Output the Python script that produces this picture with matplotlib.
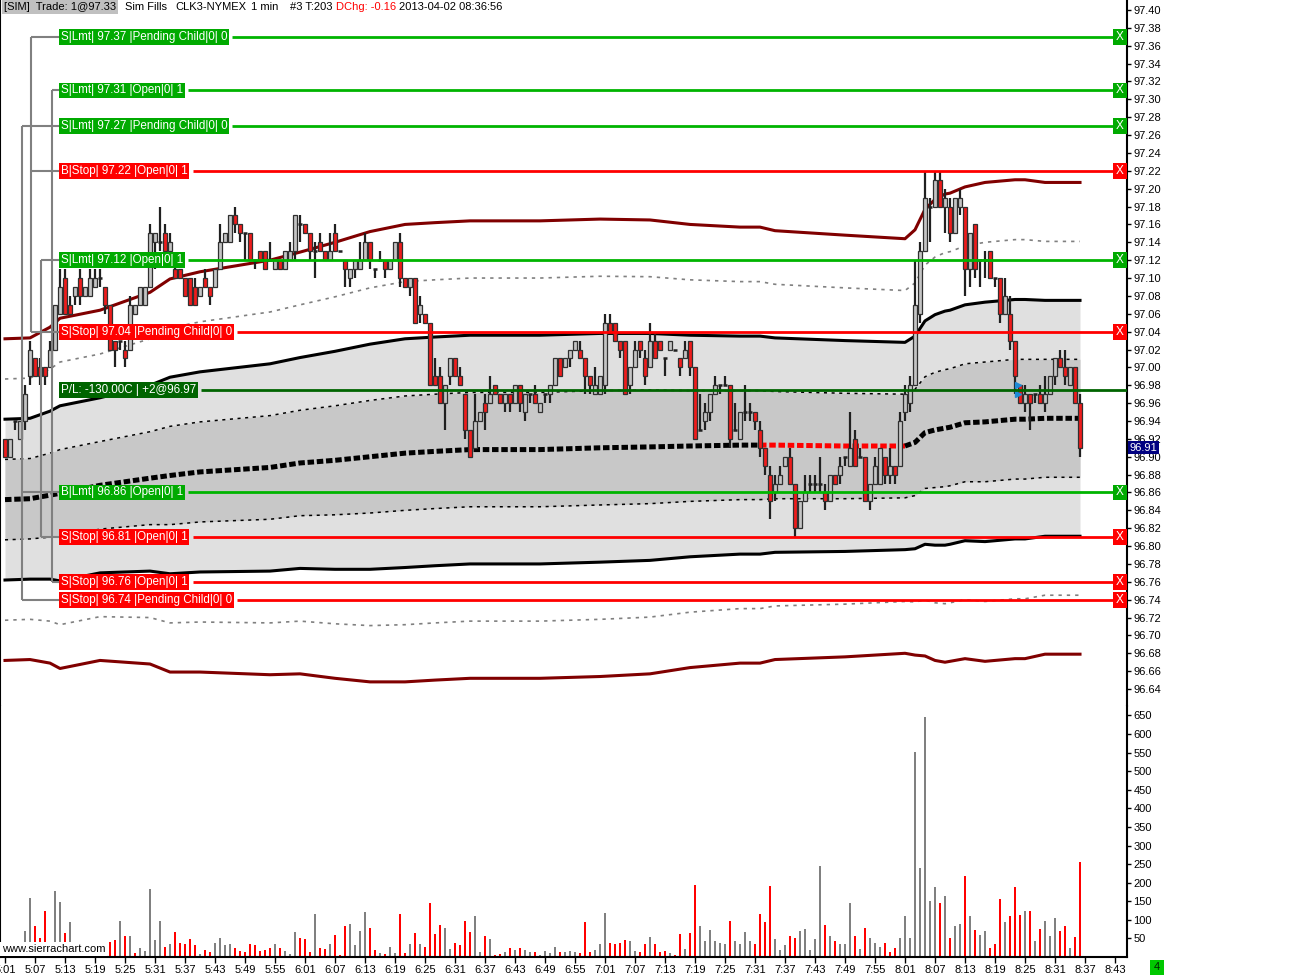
import numpy as np
import matplotlib
matplotlib.use("Agg")
import matplotlib.pyplot as plt
from matplotlib.patches import Rectangle
import matplotlib.transforms as mtransforms

plt.rcParams['font.family'] = ['Liberation Sans', 'DejaVu Sans']

# ---------------- DATA ----------------
opens = [
 96.92, 96.90, 96.94, 96.92, 96.94, 96.99, 97.01, 97.00, 97.00, 97.00,
 97.02, 97.06, 97.10, 97.07, 97.08, 97.10, 97.08, 97.08, 97.09, 97.10,
 97.09, 97.07, 97.03, 97.03, 97.02, 97.02, 97.06, 97.07, 97.07, 97.09,
 97.14, 97.14, 97.15, 97.13, 97.11, 97.11, 97.10, 97.10, 97.09, 97.08,
 97.10, 97.09, 97.09, 97.11, 97.14, 97.14, 97.17, 97.16, 97.15, 97.15,
 97.12, 97.13, 97.13, 97.12, 97.11, 97.12, 97.11, 97.12, 97.13, 97.16,
 97.16, 97.15, 97.13, 97.14, 97.13, 97.12, 97.15, 97.13, 97.12, 97.10,
 97.11, 97.11, 97.12, 97.14, 97.11, 97.12, 97.12, 97.11, 97.12, 97.14,
 97.10, 97.09, 97.10, 97.06, 97.06, 97.05, 96.99, 96.99, 96.96, 96.99,
 97.01, 96.99, 96.97, 96.93, 96.91, 96.94, 96.96, 96.96, 96.98, 96.97,
 96.96, 96.97, 96.96, 96.98, 96.95, 96.97, 96.97, 96.95, 96.97, 96.97,
 96.98, 97.01, 97.00, 97.01, 97.02, 97.02, 97.01, 96.99, 96.97, 96.97,
 96.98, 97.05, 97.05, 97.03, 97.03, 96.98, 97.00, 97.03, 97.01, 97.00,
 97.03, 97.03, 97.01, 97.02, 97.02, 97.01, 97.01, 97.03, 97.00, 96.93,
 96.94, 96.95, 96.97, 96.98, 96.98, 96.98, 96.93, 96.92, 96.95, 96.95,
 96.95, 96.93, 96.91, 96.88, 96.86, 96.87, 96.89, 96.90, 96.87, 96.82,
 96.85, 96.87, 96.87, 96.87, 96.86, 96.85, 96.88, 96.88, 96.90, 96.89,
 96.92, 96.90, 96.90, 96.85, 96.87, 96.87, 96.90, 96.88, 96.89, 96.89,
 96.95, 96.96, 96.98, 97.06, 97.13, 97.18, 97.18, 97.21, 97.18, 97.18,
 97.15, 97.18, 97.18, 97.11, 97.16, 97.12, 97.12, 97.13, 97.10, 97.10,
 97.06, 97.06, 97.03, 96.98, 96.96, 96.97, 96.97, 96.97, 96.96, 96.97,
 96.99, 97.01, 97.00, 96.98, 97.00, 96.96]
highs = [
 96.92, 96.92, 96.94, 96.94, 96.98, 97.03, 97.01, 97.01, 97.00, 97.03,
 97.07, 97.11, 97.11, 97.08, 97.09, 97.11, 97.09, 97.11, 97.11, 97.11,
 97.09, 97.07, 97.03, 97.03, 97.03, 97.08, 97.07, 97.09, 97.09, 97.16,
 97.15, 97.18, 97.16, 97.15, 97.12, 97.11, 97.10, 97.10, 97.10, 97.09,
 97.11, 97.09, 97.11, 97.16, 97.15, 97.17, 97.18, 97.16, 97.15, 97.15,
 97.12, 97.13, 97.13, 97.14, 97.12, 97.12, 97.13, 97.14, 97.17, 97.17,
 97.16, 97.15, 97.14, 97.15, 97.13, 97.15, 97.16, 97.13, 97.12, 97.11,
 97.12, 97.14, 97.15, 97.14, 97.11, 97.13, 97.12, 97.12, 97.14, 97.15,
 97.10, 97.10, 97.10, 97.08, 97.06, 97.05, 97.01, 97.00, 96.98, 97.01,
 97.01, 97.00, 96.97, 96.93, 96.97, 96.95, 96.97, 96.99, 96.98, 96.97,
 96.97, 96.97, 96.98, 96.98, 96.97, 96.97, 96.98, 96.96, 96.97, 96.98,
 97.01, 97.01, 97.01, 97.02, 97.03, 97.03, 97.01, 96.99, 97.00, 96.99,
 97.06, 97.06, 97.05, 97.03, 97.03, 97.00, 97.03, 97.03, 97.02, 97.05,
 97.04, 97.03, 97.01, 97.03, 97.02, 97.01, 97.03, 97.03, 97.00, 96.97,
 96.96, 96.97, 96.99, 96.98, 96.99, 96.98, 96.96, 96.95, 96.98, 96.96,
 96.95, 96.94, 96.91, 96.89, 96.88, 96.89, 96.90, 96.91, 96.87, 96.85,
 96.88, 96.88, 96.88, 96.90, 96.87, 96.88, 96.88, 96.90, 96.90, 96.95,
 96.93, 96.91, 96.90, 96.87, 96.90, 96.91, 96.90, 96.91, 96.89, 96.95,
 96.98, 96.99, 97.12, 97.14, 97.22, 97.19, 97.22, 97.22, 97.20, 97.19,
 97.19, 97.20, 97.18, 97.15, 97.16, 97.12, 97.13, 97.13, 97.10, 97.10,
 97.10, 97.08, 97.03, 96.98, 96.98, 96.97, 96.97, 96.98, 96.99, 96.99,
 97.01, 97.02, 97.02, 97.00, 97.00, 96.97]
lows = [
 96.90, 96.90, 96.93, 96.92, 96.93, 96.98, 96.99, 96.98, 96.98, 97.00,
 97.02, 97.06, 97.06, 97.06, 97.07, 97.07, 97.08, 97.08, 97.09, 97.09,
 97.06, 97.02, 97.00, 97.02, 97.00, 97.02, 97.06, 97.07, 97.07, 97.09,
 97.11, 97.13, 97.13, 97.12, 97.10, 97.10, 97.08, 97.07, 97.07, 97.08,
 97.09, 97.07, 97.09, 97.11, 97.14, 97.14, 97.15, 97.14, 97.12, 97.12,
 97.11, 97.12, 97.11, 97.12, 97.11, 97.11, 97.11, 97.12, 97.12, 97.14,
 97.15, 97.12, 97.10, 97.13, 97.12, 97.12, 97.13, 97.13, 97.09, 97.09,
 97.10, 97.11, 97.12, 97.11, 97.10, 97.12, 97.10, 97.11, 97.12, 97.09,
 97.09, 97.08, 97.05, 97.05, 97.05, 96.98, 96.98, 96.96, 96.93, 96.98,
 96.99, 96.98, 96.92, 96.90, 96.91, 96.94, 96.93, 96.96, 96.97, 96.96,
 96.95, 96.95, 96.96, 96.95, 96.94, 96.96, 96.96, 96.95, 96.96, 96.96,
 96.98, 96.99, 97.00, 97.00, 97.02, 97.01, 96.97, 96.97, 96.97, 96.97,
 96.97, 97.04, 97.03, 97.01, 96.97, 96.97, 97.00, 97.01, 96.98, 97.00,
 97.01, 97.02, 96.99, 97.02, 97.02, 96.99, 97.01, 96.99, 96.92, 96.93,
 96.93, 96.94, 96.97, 96.97, 96.98, 96.91, 96.93, 96.92, 96.94, 96.94,
 96.93, 96.90, 96.88, 96.83, 96.85, 96.87, 96.89, 96.87, 96.81, 96.82,
 96.85, 96.86, 96.86, 96.86, 96.84, 96.85, 96.87, 96.87, 96.89, 96.89,
 96.89, 96.90, 96.85, 96.84, 96.87, 96.87, 96.87, 96.87, 96.87, 96.89,
 96.94, 96.95, 96.98, 97.05, 97.13, 97.14, 97.18, 97.18, 97.15, 97.14,
 97.15, 97.17, 97.08, 97.09, 97.10, 97.09, 97.10, 97.10, 97.09, 97.05,
 97.06, 97.02, 96.97, 96.96, 96.95, 96.93, 96.96, 96.96, 96.95, 96.97,
 96.98, 97.00, 96.98, 96.98, 96.96, 96.90]
closes = [
 96.90, 96.92, 96.94, 96.94, 96.97, 97.02, 96.99, 96.99, 96.99, 97.02,
 97.07, 97.09, 97.06, 97.06, 97.09, 97.08, 97.09, 97.10, 97.10, 97.10,
 97.07, 97.02, 97.02, 97.03, 97.01, 97.07, 97.07, 97.09, 97.09, 97.15,
 97.15, 97.14, 97.13, 97.14, 97.10, 97.10, 97.08, 97.07, 97.07, 97.09,
 97.09, 97.08, 97.11, 97.14, 97.15, 97.17, 97.16, 97.15, 97.15, 97.12,
 97.12, 97.12, 97.11, 97.12, 97.12, 97.11, 97.13, 97.13, 97.17, 97.16,
 97.15, 97.13, 97.13, 97.13, 97.12, 97.13, 97.13, 97.13, 97.11, 97.11,
 97.12, 97.12, 97.14, 97.12, 97.11, 97.12, 97.11, 97.12, 97.14, 97.10,
 97.09, 97.10, 97.05, 97.07, 97.05, 96.98, 96.98, 96.96, 96.98, 97.01,
 96.99, 96.98, 96.93, 96.90, 96.94, 96.95, 96.95, 96.97, 96.97, 96.96,
 96.97, 96.96, 96.98, 96.96, 96.97, 96.97, 96.96, 96.96, 96.97, 96.98,
 97.01, 96.99, 97.01, 97.02, 97.03, 97.01, 96.99, 96.98, 96.98, 96.99,
 97.05, 97.04, 97.03, 97.02, 96.97, 97.00, 97.02, 97.02, 96.99, 97.03,
 97.01, 97.02, 97.01, 97.03, 97.02, 97.00, 97.02, 97.00, 96.92, 96.93,
 96.95, 96.97, 96.98, 96.98, 96.98, 96.92, 96.93, 96.95, 96.95, 96.95,
 96.94, 96.91, 96.89, 96.85, 96.87, 96.88, 96.90, 96.87, 96.82, 96.85,
 96.86, 96.87, 96.87, 96.87, 96.85, 96.88, 96.87, 96.89, 96.90, 96.91,
 96.89, 96.90, 96.85, 96.87, 96.89, 96.91, 96.88, 96.89, 96.88, 96.94,
 96.97, 96.98, 97.07, 97.13, 97.19, 97.18, 97.21, 97.18, 97.19, 97.15,
 97.19, 97.19, 97.11, 97.15, 97.11, 97.12, 97.12, 97.10, 97.10, 97.06,
 97.08, 97.03, 96.99, 96.96, 96.97, 96.96, 96.97, 96.96, 96.97, 96.99,
 97.01, 97.00, 96.99, 97.00, 96.96, 96.91]
volumes = [
 30, 25, 20, 35, 70, 160, 84, 50, 123, 30,
 177, 149, 65, 95, 30, 25, 20, 35, 15, 25,
 30, 40, 45, 98, 56, 56, 11, 25, 15, 182,
 45, 98, 28, 36, 67, 39, 36, 48, 31, 8,
 20, 14, 39, 50, 31, 36, 25, 17, 14, 36,
 31, 17, 20, 25, 34, 25, 17, 8, 67, 50,
 48, 14, 115, 25, 22, 34, 59, 6, 84, 90,
 31, 70, 121, 79, 20, 11, 8, 28, 11, 115,
 11, 36, 65, 34, 28, 146, 62, 87, 79, 22,
 39, 31, 98, 67, 109, 14, 56, 48, 6, 8,
 14, 25, 20, 25, 20, 14, 14, 6, 17, 11,
 28, 14, 14, 17, 14, 11, 93, 14, 20, 34,
 118, 39, 34, 39, 45, 42, 17, 14, 34, 53,
 34, 14, 17, 11, 6, 62, 22, 65, 194, 84,
 42, 73, 42, 39, 34, 98, 42, 36, 67, 42,
 34, 115, 95, 191, 48, 20, 31, 56, 50, 70,
 76, 20, 48, 245, 87, 56, 42, 34, 34, 146,
 56, 22, 79, 50, 39, 28, 39, 14, 25, 50,
 109, 50, 552, 240, 646, 151, 188, 146, 163, 50,
 84, 90, 219, 109, 73, 59, 70, 25, 36, 157,
 95, 109, 188, 112, 123, 123, 42, 76, 98, 56,
 104, 70, 84, 25, 53, 256]
vol_dir = ("rgggggrrrg" "ggrggrgggg" "rrrgrgrggg" "ggrgrrrrrg" "rrggggrrrr"
           "rrrrgrgggr" "rrgrrgrrrg" "gggrrgrggr" "rgrgrrrrgg" "rrrrggrgrr"
           "grgrggrggg" "grgggrrrgg" "grrrrggrrg" "rrrgrrgrrg" "gggggrgggg"
           "rrrrgggrrg" "ggggrgrggg" "rgrgggrrrg" "gggggggrgr" "ggrgrggrrr"
           "grrrgrgrgg" "grrgrr")

# bar minutes after 5:00
bar_minutes = np.arange(1, len(opens) + 1)

# VWAP study with standard deviation bands (knots)
knot_minutes = [1, 6, 10, 12, 20, 30, 34, 40, 54, 60, 67, 74, 81, 87, 94, 108, 120,
                130, 138, 148, 152, 155, 169, 181, 183, 185, 187, 189, 190, 193, 197,
                199, 203, 205, 209, 216]
vwap = [96.852, 96.853, 96.857, 96.859, 96.868, 96.876, 96.879, 96.883, 96.888, 96.893,
        96.896, 96.900, 96.904, 96.906, 96.908, 96.908, 96.910, 96.911, 96.912, 96.913,
        96.913, 96.913, 96.912, 96.912, 96.916, 96.927, 96.930, 96.932, 96.933, 96.938,
        96.939, 96.940, 96.942, 96.942, 96.943, 96.943]
vwap_sd = [0.045, 0.045, 0.047, 0.049, 0.049, 0.052, 0.055, 0.056, 0.058, 0.059,
           0.061, 0.063, 0.064, 0.064, 0.064, 0.064, 0.064, 0.0635, 0.062, 0.061,
           0.061, 0.060, 0.059, 0.058, 0.0595, 0.0625, 0.0645, 0.0655, 0.0655, 0.066,
           0.067, 0.067, 0.067, 0.067, 0.066, 0.066]
vwap_red_from, vwap_red_to = 152, 181

# orders
order_prices = [97.37, 97.31, 97.27, 97.22, 97.12, 97.04, 96.86, 96.81, 96.76, 96.74]
order_labels = ["S|Lmt| 97.37 |Pending Child|0| 0", "S|Lmt| 97.31 |Open|0| 1",
                "S|Lmt| 97.27 |Pending Child|0| 0", "B|Stop| 97.22 |Open|0| 1",
                "S|Lmt| 97.12 |Open|0| 1", "S|Stop| 97.04 |Pending Child|0| 0",
                "B|Lmt| 96.86 |Open|0| 1", "S|Stop| 96.81 |Open|0| 1",
                "S|Stop| 96.76 |Open|0| 1", "S|Stop| 96.74 |Pending Child|0| 0"]
order_types = ["Lmt", "Lmt", "Lmt", "Stop", "Lmt", "Stop", "Lmt", "Stop", "Stop", "Stop"]
brackets = [[97.27, 96.86, 96.74], [97.37, 97.22, 97.04], [97.12, 96.81], [97.31, 96.76]]
position_price = 96.975
position_label = "P/L: -130.00C | +2@96.97"
last_price = 96.91
exec_minutes = [203.6, 203.6]
exec_prices = [96.98, 96.97]

price_ticks = [round(96.64 + 0.02 * i, 2) for i in range(39)]
vol_ticks = [50, 100, 150, 200, 250, 300, 350, 400, 450, 500, 550, 600, 650]
time_tick_minutes = [1 + 6 * i for i in range(38)]
time_tick_labels = ["5:01", "5:07", "5:13", "5:19", "5:25", "5:31", "5:37", "5:43", "5:49",
                    "5:55", "6:01", "6:07", "6:13", "6:19", "6:25", "6:31", "6:37", "6:43",
                    "6:49", "6:55", "7:01", "7:07", "7:13", "7:19", "7:25", "7:31", "7:37",
                    "7:43", "7:49", "7:55", "8:01", "8:07", "8:13", "8:19", "8:25", "8:31",
                    "8:37", "8:43"]

# ---------------- LAYOUT ----------------
W, H = 1316, 976
fig = plt.figure(figsize=(W / 100, H / 100), dpi=100)
fig.patch.set_facecolor('white')


def rect(x0, y0, x1, y1):
    return [x0 / W, 1 - y1 / H, (x1 - x0) / W, (y1 - y0) / H]


PX = 5.0
X_RIGHT = 1127
axp = fig.add_axes(rect(0, 0, X_RIGHT, 706))
axv = fig.add_axes(rect(0, 706, X_RIGHT, 957))
for ax in (axp, axv):
    ax.set_xlim(0, X_RIGHT / PX)
    ax.set_facecolor('white')
    ax.spines['top'].set_visible(False)
    for s in ('left', 'right', 'bottom'):
        ax.spines[s].set_color('black')
        ax.spines[s].set_linewidth(1.5)
axp.spines['bottom'].set_visible(False)
axp.set_ylim(96.621, 97.4112)
axv.set_ylim(0, 675.5)

FS = 8
LFS = 8.4
axp.set_yticks(price_ticks)
axp.set_yticklabels([f"{v:.2f}" for v in price_ticks])
axv.set_yticks(vol_ticks)
axv.set_yticklabels([str(v) for v in vol_ticks])
for ax in (axp, axv):
    ax.tick_params(axis='y', left=False, right=True, labelleft=False, labelright=True,
                   direction='out', length=3, width=1, pad=1.5, labelsize=FS)
axp.tick_params(axis='x', bottom=False, labelbottom=False)
axv.set_xticks(time_tick_minutes)
axv.set_xticklabels(time_tick_labels)
axv.tick_params(axis='x', direction='out', length=4, width=1, pad=1.5, labelsize=FS)

km = np.array(knot_minutes, float)
vw = np.array(vwap)
sd = np.array(vwap_sd)

# bands
axp.fill_between(km, vw - 2 * sd, vw + 2 * sd, color='#e0e0e0', lw=0, zorder=1)
axp.fill_between(km, vw - sd, vw + sd, color='#c8c8c8', lw=0, zorder=1.1)
for sgn in (1, -1):
    axp.plot(km, vw + sgn * 4 * sd, color='#800000', lw=2.2, zorder=2)
    axp.plot(km, vw + sgn * 3 * sd, color='#808080', lw=1.2, ls=(0, (2, 3)), zorder=2)
    axp.plot(km, vw + sgn * 2 * sd, color='black', lw=2.2, zorder=2)
    axp.plot(km, vw + sgn * 1 * sd, color='black', lw=1.1, ls=(0, (2, 3)), zorder=2)
blk1 = km <= vwap_red_from
red = (km >= vwap_red_from) & (km <= vwap_red_to)
blk2 = km >= vwap_red_to
for mask, col in ((blk1, 'black'), (red, '#ff0000'), (blk2, 'black')):
    axp.plot(km[mask], vw[mask], color=col, lw=3.6, ls=(0, (1.3, 0.55)), zorder=3)

# candles
m = bar_minutes
o, h, l, c = (np.array(a) for a in (opens, highs, lows, closes))
up = c > o
dn = c < o
dj = np.isclose(c, o)
axp.vlines(m, l, h, color='#202020', lw=1.6, zorder=4)
axp.bar(m[up], (c - o)[up], bottom=o[up], width=0.74, color='#c4c4c4',
        edgecolor='#303030', lw=0.9, zorder=5)
axp.bar(m[dn], (o - c)[dn], bottom=c[dn], width=0.74, color='#ee1c1c',
        edgecolor='#303030', lw=0.9, zorder=5)
axp.hlines(o[dj], m[dj] - 0.45, m[dj] + 0.45, color='#202020', lw=1.8, zorder=5)

# executions
axp.plot(exec_minutes, exec_prices, '>', color='#1e8ad6', ms=5, mec='#1e8ad6', zorder=7,
         ls='none')

# volume
vcol = ['#ff0000' if d == 'r' else '#808080' for d in vol_dir]
axv.bar(m, volumes, width=0.42, color=vcol, lw=0, zorder=2)

# orders
renderer = fig.canvas.get_renderer()
LABEL_X = 60
col_px = [22, 31, 41, 52]
for cx, prices in zip(col_px, brackets):
    axp.plot([cx / PX, cx / PX], [max(prices), min(prices)], color='#808080', lw=1.5,
             zorder=9, solid_capstyle='butt')
    for p in prices:
        axp.plot([cx / PX, LABEL_X / PX], [p, p], color='#808080', lw=1.5, zorder=9,
                 solid_capstyle='butt')


def order_line(price, label, bg, line_col, xbox):
    t = axp.text(LABEL_X / PX + 0.15, price, label, ha='left', va='center', fontsize=LFS,
                 color='white', zorder=11,
                 bbox=dict(boxstyle='square,pad=0.16', fc=bg, ec='none'))
    bb = t.get_window_extent(renderer)
    x_start = (bb.x1 + 5) / PX
    x_end = (1113 if xbox else X_RIGHT) / PX
    axp.plot([x_start, x_end], [price, price], color=line_col, lw=2, zorder=8,
             solid_capstyle='butt')
    if xbox:
        axp.add_patch(Rectangle((1113 / PX, price - 0.0088), 14 / PX, 0.0176,
                                fc=bg, ec='none', zorder=11))
        axp.text(1120 / PX, price, 'X', ha='center', va='center', fontsize=FS + 0.5,
                 color='white', zorder=12)


for p, lab, typ in zip(order_prices, order_labels, order_types):
    if typ == 'Lmt':
        order_line(p, lab, '#00aa00', '#00b400', True)
    else:
        order_line(p, lab, '#ff0000', '#ff0000', True)
order_line(position_price, position_label, '#006400', '#006400', False)

# last price marker on axis
trans = mtransforms.blended_transform_factory(axp.transAxes, axp.transData)
axp.text(1.0 + 3 / X_RIGHT, last_price, f"{last_price:.2f}", transform=trans, ha='left',
         va='center', fontsize=FS, color='white', zorder=20, clip_on=False,
         bbox=dict(boxstyle='square,pad=0.15', fc='#000080', ec='none'))

# header
x = 4
segments = [("[SIM]  Trade: 1@97.33", 'black', '#c0c0c0', 5),
            ("Sim Fills", 'black', None, 8),
            ("CLK3-NYMEX", 'black', None, 5),
            ("1 min", 'black', None, 12),
            ("#3 T:203", 'black', None, 3),
            ("DChg: -0.16", '#ff0000', None, 3),
            ("2013-04-02 08:36:56", 'black', None, 0)]
for txt, col, bg, gap in segments:
    kw = {}
    if bg:
        kw['bbox'] = dict(boxstyle='square,pad=0.2', fc=bg, ec='none')
    t = fig.text(x / W, 1 - 7 / H, txt, ha='left', va='center', fontsize=FS, color=col,
                 zorder=20, **kw)
    bb = t.get_window_extent(renderer)
    x = bb.x1 + (4 if bg else 0) + gap

# watermark
fig.text(2 / W, 1 - 949 / H, "www.sierrachart.com", ha='left', va='center', fontsize=FS,
         color='black', zorder=20,
         bbox=dict(boxstyle='square,pad=0.15', fc='white', ec='none'))

# green box bottom right
fig.patches.append(Rectangle((1150 / W, 1 - 975 / H), 14 / W, 15 / H, fc='#00c800',
                             ec='none', transform=fig.transFigure, figure=fig))
fig.text(1157 / W, 1 - 967.5 / H, "4", ha='center', va='center', fontsize=FS,
         color='#002200', zorder=21)

fig.savefig("out.png", dpi=100, facecolor='white')
